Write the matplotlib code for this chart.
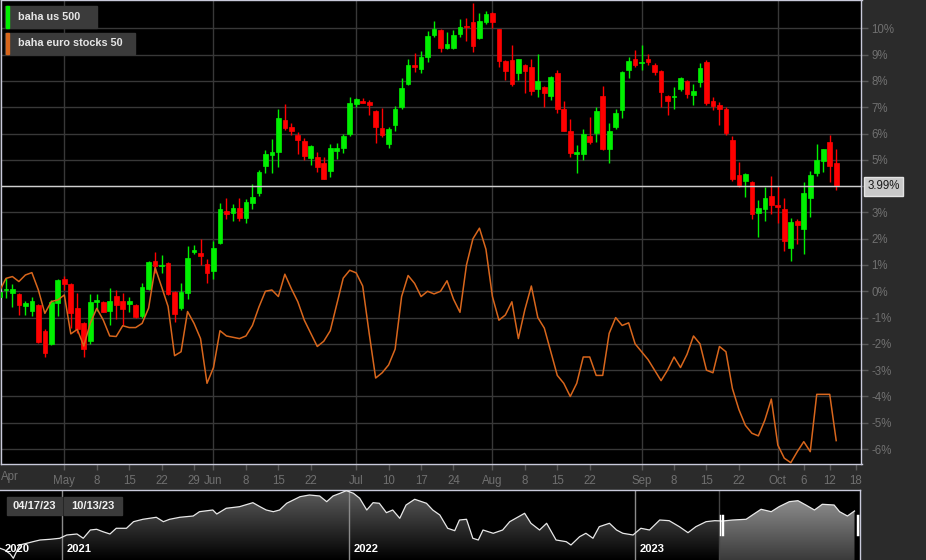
import numpy as np
import pandas as pd
import matplotlib
matplotlib.use("Agg")
import matplotlib.pyplot as plt
import matplotlib.dates as mdates
from matplotlib.colors import LinearSegmentedColormap
from matplotlib.ticker import FuncFormatter, FixedLocator
from matplotlib.transforms import blended_transform_factory

plt.rcParams['font.family'] = ['Liberation Sans', 'DejaVu Sans']

# baha us 500, % change, one candle per weekday from 2023-04-17
us_open = [-0.2, 0.03, -0.08, -0.1, -0.56, -0.74, -0.53, -1.5, -2.0, -0.46,
           0.47, 0.28, -0.62, -1.22, -1.88, -0.39, -0.39, -0.74, -0.18, -0.37,
           -0.47, -0.53, -0.94, 0.09, 1.15, 0.95, 1.06, -0.02, -0.65, -0.05,
           1.5, 1.45, 1.03, 0.77, 1.82, 3.05, 2.97, 3.18, 2.8, 3.35,
           3.73, 4.76, 5.17, 5.3, 6.51, 6.24, 5.94, 5.71, 5.08, 5.12,
           4.89, 4.57, 5.33, 5.46, 6.0, 7.11, 7.25, 7.19, 6.86, 6.2,
           5.6, 6.32, 7.01, 7.89, 8.59, 8.45, 8.91, 9.75, 9.94, 9.26,
           9.26, 9.8, 10.1, 10.24, 9.64, 10.24, 10.59, 9.96, 8.77, 8.78,
           8.3, 8.6, 8.53, 7.68, 7.76, 7.41, 8.29, 6.94, 6.1, 5.24,
           5.22, 5.9, 6.01, 7.44, 5.41, 6.26, 6.89, 8.41, 8.82, 8.69,
           8.84, 8.6, 8.37, 7.43, 7.39, 7.68, 8.0, 7.46, 7.97, 8.71,
           7.25, 7.1, 6.95, 5.75, 4.42, 4.21, 4.17, 2.97, 3.13, 3.64,
           3.28, 3.13, 1.63, 2.67, 2.37, 3.56, 4.49, 4.97, 5.69, 4.87]
us_high = [0.02, 0.49, 0.27, -0.08, -0.37, -0.23, -0.5, -1.45, -0.33, 0.45,
           0.58, 0.3, -0.08, -1.15, -0.1, -0.1, -0.37, 0.11, 0.05, -0.05,
           -0.23, -0.5, 0.33, 1.15, 1.5, 1.38, 1.1, 0.0, 0.3, 1.72,
           1.76, 1.97, 1.22, 1.92, 3.35, 3.56, 3.32, 3.56, 3.5, 4.07,
           4.61, 5.37, 5.78, 6.92, 7.12, 6.39, 6.05, 5.82, 5.55, 5.28,
           5.09, 5.59, 5.63, 6.0, 7.38, 7.35, 7.34, 7.27, 6.9, 6.96,
           6.26, 7.05, 8.1, 8.82, 9.05, 9.15, 9.9, 10.28, 9.96, 9.87,
           9.94, 10.35, 10.38, 10.97, 10.57, 10.66, 10.62, 9.98, 8.8, 9.37,
           8.85, 8.65, 8.82, 9.01, 7.8, 8.18, 8.41, 7.24, 6.54, 5.56,
           6.17, 6.64, 7.0, 7.81, 6.39, 6.92, 8.38, 8.9, 9.17, 9.37,
           9.01, 8.7, 8.4, 7.45, 7.76, 8.15, 8.05, 7.87, 8.69, 8.79,
           7.4, 7.2, 7.0, 5.9, 4.93, 4.5, 4.2, 3.47, 3.95, 4.38,
           4.0, 3.54, 2.78, 2.75, 4.17, 4.57, 5.6, 5.42, 5.94, 5.4]
us_low = [-0.67, -0.25, -0.58, -0.9, -0.9, -0.94, -1.95, -2.49, -2.05, -0.94,
          0.05, -1.41, -1.6, -2.5, -2.0, -0.74, -0.8, -1.28, -1.07, -1.28,
          -0.77, -1.0, -1.0, 0.05, 0.71, 0.68, -0.15, -1.16, -0.7, -0.3,
          1.42, 1.0, 0.33, 0.46, 1.8, 2.76, 2.68, 2.68, 2.61, 3.12,
          3.62, 4.49, 4.49, 4.74, 6.15, 5.94, 5.21, 4.99, 4.8, 4.55,
          4.26, 4.33, 5.02, 5.27, 5.92, 7.0, 7.15, 6.7, 5.63, 5.88,
          5.44, 6.11, 6.94, 7.85, 8.35, 8.31, 8.71, 9.66, 9.09, 9.22,
          9.2, 9.66, 9.53, 9.09, 9.6, 10.15, 10.02, 8.52, 8.03, 7.81,
          8.03, 7.53, 7.46, 7.38, 7.02, 7.27, 6.77, 6.08, 5.12, 4.49,
          4.99, 5.59, 5.69, 5.38, 4.89, 6.16, 6.58, 8.1, 8.55, 8.41,
          8.6, 8.22, 7.0, 6.7, 6.93, 7.62, 7.36, 7.08, 7.76, 7.08,
          6.9, 6.33, 5.95, 4.2, 3.95, 3.57, 2.74, 2.08, 2.68, 2.94,
          2.61, 1.54, 1.16, 1.79, 1.41, 2.81, 4.4, 4.55, 4.17, 3.85]
us_close = [-0.02, 0.07, 0.08, -0.52, -0.46, -0.36, -1.92, -2.33, -0.41, 0.43,
            0.27, -0.81, -1.45, -2.2, -0.42, -0.35, -0.77, -0.36, -0.53, -0.67,
            -0.37, -0.99, 0.15, 1.1, 0.97, 0.99, -0.11, -0.88, -0.04, 1.25,
            1.56, 1.34, 0.71, 1.65, 3.12, 2.94, 3.17, 2.8, 3.4, 3.6,
            4.54, 5.22, 5.31, 6.6, 6.2, 6.1, 5.75, 5.14, 5.52, 4.71,
            4.28, 5.44, 5.46, 5.9, 7.17, 7.3, 7.17, 7.08, 6.25, 5.94,
            6.17, 6.92, 7.72, 8.6, 8.53, 8.9, 9.72, 9.96, 9.26, 9.41,
            9.73, 10.05, 10.05, 9.33, 10.3, 10.56, 10.24, 8.75, 8.39, 7.89,
            8.82, 8.38, 7.63, 7.98, 7.54, 8.14, 6.92, 6.11, 5.27, 5.3,
            5.97, 5.69, 6.87, 5.4, 6.1, 6.78, 8.33, 8.76, 8.59, 8.73,
            8.73, 8.33, 7.59, 7.24, 7.43, 8.1, 7.5, 7.62, 8.5, 7.17,
            7.05, 6.95, 6.01, 4.27, 4.04, 4.46, 2.94, 3.16, 3.55, 3.28,
            3.21, 1.91, 2.65, 2.52, 3.73, 4.42, 4.99, 5.4, 4.76, 3.99]

# baha euro stocks 50, % change
eu_close = [0.0, 0.49, 0.56, 0.37, 0.62, 0.71, 0.05, -0.84, -0.39, -0.33,
            -0.14, -1.62, -1.45, -2.08, -1.22, -0.65, -1.09, -1.7, -1.72, -1.31,
            -1.38, -1.38, -1.22, -0.64, 0.9, 0.17, -0.58, -2.45, -2.3, -0.77,
            -1.22, -1.8, -3.5, -2.9, -1.5, -1.7, -1.75, -1.8, -1.7, -1.3,
            -0.6, 0.0, 0.05, -0.2, 0.65, 0.1, -0.4, -1.1, -1.6, -2.1,
            -1.9, -1.5, -0.5, 0.5, 0.8, 0.7, 0.2, -1.6, -3.3, -3.1,
            -2.8, -2.2, -0.2, 0.6, 0.3, -0.2, 0.0, -0.1, 0.0, 0.4,
            -0.3, -0.8, 1.0, 2.0, 2.4, 1.6, -0.2, -1.1, -0.9, -0.4,
            -1.8, -0.7, 0.2, -1.0, -1.4, -2.3, -3.2, -3.5, -4.0, -3.5,
            -2.5, -2.5, -3.2, -3.2, -1.6, -1.0, -1.3, -1.2, -2.0, -2.3,
            -2.6, -3.0, -3.4, -3.0, -2.5, -2.9, -2.4, -1.7, -2.0, -3.0,
            -3.1, -2.1, -2.3, -3.7, -4.5, -5.1, -5.4, -5.5, -4.9, -4.1,
            -5.85, -6.35, -6.52, -6.1, -5.72, -6.1, -3.92, -3.92, -3.92, -5.68]

last_value = 3.99

# x axis: weekday index (0 = Apr 17)
tick_idx = [10, 15, 20, 25, 30, 33, 38, 43, 48, 55, 60, 65, 70, 76, 81, 86, 91,
            99, 104, 109, 114, 120, 124, 128, 132]
tick_lbl = ['May', '8', '15', '22', '29', 'Jun', '8', '15', '22', 'Jul', '10', '17',
            '24', 'Aug', '8', '15', '22', 'Sep', '8', '15', '22', 'Oct', '6', '12', '18']
month_idx = [10, 33, 55, 76, 99, 120]

# navigator (3 years of the us 500 index)
nav_start = '2020-10-14'
nav_days = [0, 6, 13, 17, 25, 34, 42, 51, 64, 76, 85, 98, 106, 115, 123, 131, 140,
            148, 161, 170, 182, 199, 208, 216, 229, 246, 254, 271, 276, 288, 305,
            322, 331, 339, 348, 356, 365, 382, 394, 407, 416, 424, 433, 441, 450,
            458, 467, 475, 483, 492, 500, 509, 517, 528, 543, 551, 560, 570, 579,
            585, 594, 602, 609, 615, 628, 640, 649, 668, 676, 687, 696, 708, 721,
            727, 738, 746, 755, 763, 776, 785, 793, 806, 816, 827, 840, 852, 865,
            876, 886, 899, 910, 920, 933, 950, 958, 969, 982, 992, 1005, 1016,
            1026, 1037, 1047, 1062, 1069, 1079, 1088]
nav_close = [3418, 3375, 3275, 3168, 3500, 3543, 3583, 3625, 3643, 3668, 3750, 3775,
             3668, 3875, 3893, 3833, 3775, 3918, 3918, 4083, 4143, 4193, 4083, 4143,
             4193, 4225, 4333, 4375, 4275, 4418, 4458, 4558, 4458, 4375, 4333, 4375,
             4543, 4708, 4750, 4725, 4583, 4725, 4793, 4858, 4793, 4668, 4375, 4558,
             4543, 4308, 4375, 4168, 4500, 4643, 4543, 4375, 4250, 3918, 3858, 4125,
             4143, 3668, 3625, 3875, 3793, 3875, 4083, 4293, 4043, 3875, 4043, 3625,
             3583, 3500, 3708, 3793, 3668, 3958, 4043, 3875, 3793, 3750, 3918, 3875,
             4125, 4108, 3958, 3808, 3958, 4083, 4108, 4100, 4125, 4143, 4250, 4393,
             4333, 4458, 4583, 4608, 4500, 4375, 4518, 4500, 4333, 4225, 4350]
sel_start = '2023-04-17'
sel_end = '2023-10-13'
years = ['2020', '2021', '2022', '2023']

BG = '#2b2b2b'
GREEN = '#00f000'
RED = '#ff0000'
ORANGE = '#d8661c'
SPINE = '#c9cadb'
GRID = '#383838'
TXT = '#707070'
BOX = '#3b3b3b'

W, H = 926, 560
fig = plt.figure(figsize=(W / 100, H / 100), dpi=100, facecolor=BG)
ax = fig.add_axes([1 / W, 96 / H, 860.5 / W, 464 / H], facecolor='black')

idx = np.arange(len(us_close))
o = np.array(us_open)
c = np.array(us_close)
up = c >= o
cols = np.where(up, GREEN, RED)
body_lo = np.minimum(o, c)
body_h = np.maximum(np.abs(c - o), 0.05)

ax.vlines(idx, us_low, us_high, colors=cols, lw=1, zorder=3)
ax.bar(idx, body_h, bottom=body_lo, width=0.72, color=cols, edgecolor=cols,
       linewidth=0.5, zorder=4)
ax.plot(idx, eu_close, color=ORANGE, lw=1.1, zorder=5)

ax.axhline(last_value, color='#cfcfcf', lw=1, zorder=6)
for m in month_idx:
    ax.axvline(m, color=GRID, lw=1, zorder=1)
ax.set_yticks(range(-6, 11))
ax.grid(axis='y', color=GRID, lw=1, zorder=1)
ax.set_axisbelow(True)

ax.set_xlim(0.24, 132.9)
ax.set_ylim(-6.57, 11.08)

ax.yaxis.tick_right()
# the 4% label is hidden behind the last value marker
ax.yaxis.set_major_formatter(FuncFormatter(lambda v, p: '' if round(v) == 4 else '%d%%' % v))
ax.tick_params(axis='y', colors=TXT, labelsize=8.3, length=5, width=1, pad=2)
ax.tick_params(axis='y', color='#5a5a5a')
ax.xaxis.set_major_locator(FixedLocator(tick_idx))
ax.set_xticklabels(tick_lbl)
ax.tick_params(axis='x', colors=TXT, labelsize=8.3, length=4, width=1, pad=4)
ax.tick_params(axis='x', color='#5a5a5a')
ax.text(0.0, -0.028, 'Apr', transform=ax.transAxes, ha='left', va='center',
        color=TXT, fontsize=8.3)
for s in ax.spines.values():
    s.set_color(SPINE)
    s.set_linewidth(1)

tr = blended_transform_factory(ax.transAxes, ax.transData)
ax.text(1.0065, last_value, '%.2f%%' % last_value, transform=tr, ha='left', va='center',
        fontsize=8.3, color='#1a1a1a',
        bbox=dict(boxstyle='square,pad=0.28', fc='#c8c8c8', ec='#e4e4e4', lw=1))


def px_rect(x0, y0, x1, y1, color, z):
    fig.patches.append(plt.Rectangle((x0 / W, 1 - y1 / H), (x1 - x0) / W, (y1 - y0) / H,
                                     transform=fig.transFigure, color=color, zorder=z))


# legend boxes
legend = [('baha us 500', GREEN, 6, 28, 97), ('baha euro stocks 50', ORANGE, 33, 54, 135)]
for name, col, y0, y1, x1 in legend:
    px_rect(5, y0, x1, y1, BOX, 10)
    px_rect(6, y0, 9, y1, col, 11)
    fig.text(18 / W, 1 - (y0 + y1) / 2 / H, name, ha='left', va='center',
             fontsize=7.8, fontweight='bold', color='#e6e6e6', zorder=12)

# navigator
nav = fig.add_axes([0, 0, 860 / W, 70 / H], facecolor='black')
nd = pd.Timestamp(nav_start) + pd.to_timedelta(nav_days, unit='D')
nx = mdates.date2num(nd)
ylo, yhi = 3125, 4875
x0 = mdates.date2num(pd.Timestamp(nav_start))
x1 = mdates.date2num(pd.Timestamp('2023-10-14'))
s0 = mdates.date2num(pd.Timestamp(sel_start))
s1 = mdates.date2num(pd.Timestamp(sel_end))

poly = nav.fill_between(nx, nav_close, ylo, color='none', lw=0)
clip = poly.get_paths()[0]
grad = np.linspace(1, 0, 256).reshape(-1, 1)
cm_dim = LinearSegmentedColormap.from_list('dim', ['#000000', '#5e5e5e'])
cm_sel = LinearSegmentedColormap.from_list('sel', ['#3a3a3a', '#9a9a9a'])
im1 = nav.imshow(grad, cmap=cm_dim, aspect='auto', extent=[x0, s0, ylo, yhi],
                 origin='upper', zorder=1)
im1.set_clip_path(clip, transform=nav.transData)
im2 = nav.imshow(grad, cmap=cm_sel, aspect='auto', extent=[s0, s1 + 2, ylo, yhi],
                 origin='upper', zorder=1)
im2.set_clip_path(clip, transform=nav.transData)
nav.plot(nx, nav_close, color='#e8e8e8', lw=0.9, zorder=3)
nav.set_xlim(x0, x1)
nav.set_ylim(ylo, yhi)

for yr in years[1:]:
    nav.axvline(mdates.date2num(pd.Timestamp(yr + '-01-01')), color='#8a8a8a', lw=1, zorder=2)
nav.axvline(s0, color='#444444', lw=1, zorder=2)
ntr = blended_transform_factory(nav.transData, nav.transAxes)
for yr in years:
    xd = max(pd.Timestamp(yr + '-01-01'), pd.Timestamp(nav_start)) + pd.Timedelta(days=6)
    nav.text(mdates.date2num(xd), 0.15, yr, transform=ntr,
             ha='left', va='center', color='white', fontsize=8, fontweight='bold', zorder=6)

for d in [0, 2.2, 4.4]:
    nav.axvline(s0 + 1.5 + d, ymin=0.36, ymax=0.64, color='white', lw=1, zorder=7)
    nav.axvline(s1 + 1 - d, ymin=0.36, ymax=0.64, color='white', lw=1, zorder=7)

for lab, bx0, bx1 in [('04/17/23', 7, 62), ('10/13/23', 64, 122)]:
    px_rect(bx0, 497, bx1, 515, BOX, 10)
    fig.text((bx0 + bx1) / 2 / W, 1 - 506 / H, lab, ha='center', va='center',
             color='#f0f0f0', fontsize=8, fontweight='bold', zorder=12)

nav.set_xticks([])
nav.set_yticks([])
for k, s in nav.spines.items():
    s.set_color(SPINE)
    s.set_linewidth(1)
    if k in ('left', 'bottom'):
        s.set_visible(False)

fig.savefig('out.png', dpi=100, facecolor=BG)
